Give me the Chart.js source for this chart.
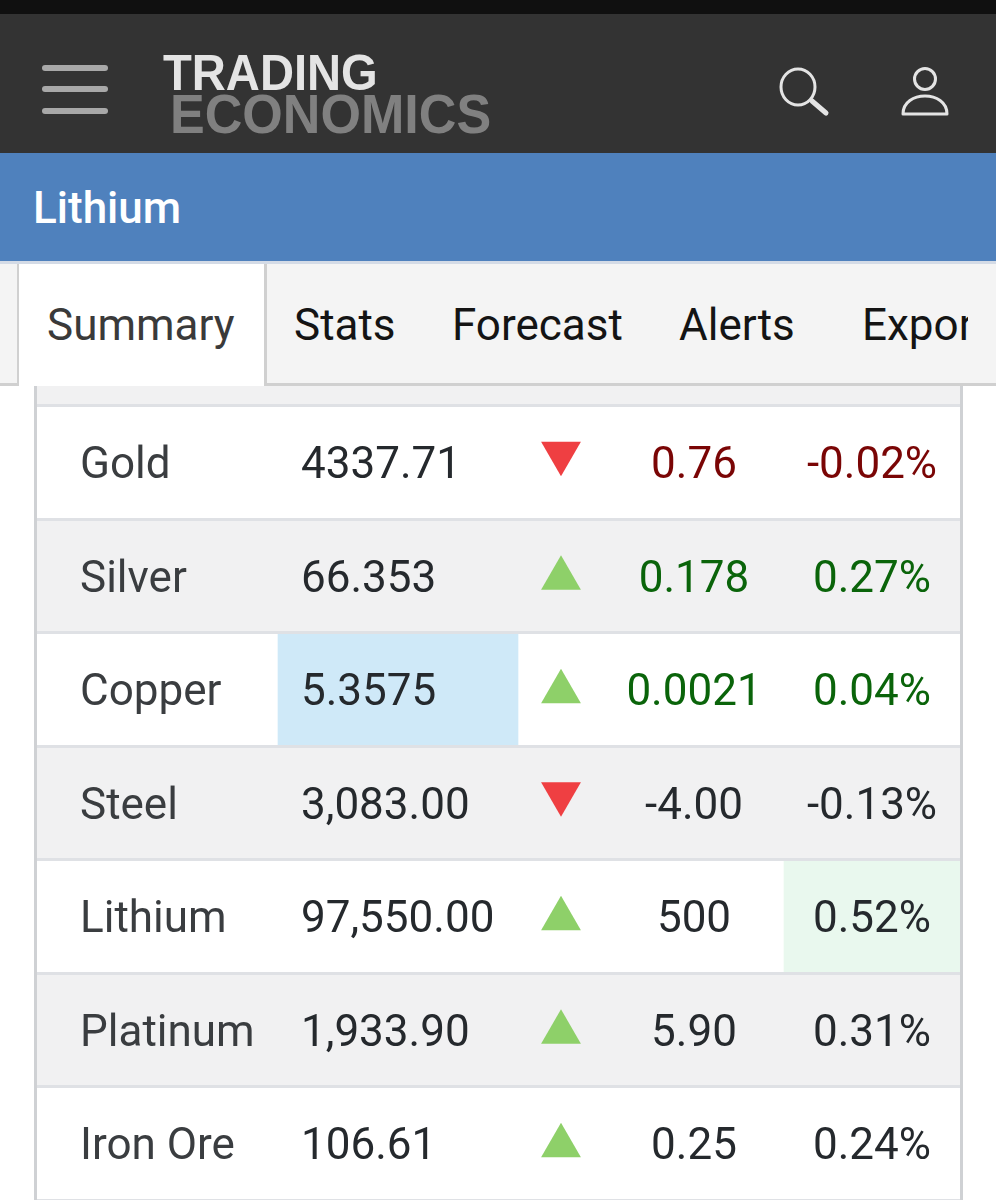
<!DOCTYPE html>
<html>
<head>
<meta charset="utf-8">
<title>Lithium</title>
<script src="https://cdn.jsdelivr.net/npm/chart.js@4"></script>
<style>
    html, body { margin: 0; padding: 0; width: 996px; height: 1200px; overflow: hidden; background: #fff; }
    body { position: relative; font-family: Roboto, sans-serif; }
    .abs { position: absolute; white-space: nowrap; }
    #topbar { left: 0; top: 0; width: 996px; height: 14px; background: #101010; }
    #header { left: 0; top: 14px; width: 996px; height: 139px; background: #333; }
    .burger { left: 42px; width: 66px; height: 6px; border-radius: 3px; background: #a8a8a8; }
    .logo { font-family: "Liberation Sans", sans-serif; font-weight: 700; transform-origin: 0 0; line-height: 1; }
    #title { left: 0; top: 153px; width: 996px; height: 108px; background: #4f81bd; }
    #titleText { left: 33px; top: 182px; font-size: 44px; line-height: 52px; font-weight: 500; color: #fff; }
    #strip { left: 0; top: 261px; width: 996px; height: 3px; background: #d4dbe6; }
    #tabs { left: 0; top: 264px; width: 996px; height: 119px; background: #f4f4f4; border-bottom: 3px solid #d0d0d0; overflow: hidden; z-index: 2; }
    #stub { left: 0; top: 0; width: 17px; height: 119px; border-right: 2px solid #d0d0d0; }
    #active { left: 19px; top: 0; width: 245px; height: 122px; background: #fff; border-right: 3px solid #d0d0d0; }
    .tab { top: 35px; font-size: 44px; line-height: 52px; color: #141414; }
    #activeGap { left: 19px; top: 383px; width: 245px; height: 3px; background: #fff; z-index: 3; }
    #clip { left: 0; top: 0; width: 968px; height: 119px; overflow: hidden; }
    #chartBox { left: 0; top: 292px; width: 996px; height: 908px; }
</style>
</head>
<body>
<div class="abs" id="topbar"></div>
<div class="abs" id="header"></div>
<div class="abs burger" style="top:65px"></div>
<div class="abs burger" style="top:86px"></div>
<div class="abs burger" style="top:108px"></div>
<div class="abs logo" id="logo1" style="left:163px;top:48px;font-size:50px;color:#e4e4e4;transform:scaleX(.943)">TRADING</div>
<div class="abs logo" id="logo2" style="left:170px;top:86px;font-size:56px;color:#808080;transform:scaleX(.93)">ECONOMICS</div>
<svg class="abs" style="left:770px;top:60px" width="190" height="64" viewBox="0 0 190 64" fill="none" stroke="#e4e4e4">
    <ellipse cx="28" cy="27" rx="17" ry="18" stroke-width="3"/>
    <line x1="42" y1="41" x2="56" y2="53" stroke-width="5" stroke-linecap="round"/>
    <ellipse cx="155" cy="19" rx="10.5" ry="10.5" stroke-width="3"/>
    <path d="M133 54 C133 30 177 30 177 54 Z" stroke-width="3" stroke-linejoin="round"/>
</svg>
<div class="abs" id="title"></div>
<div class="abs" id="titleText">Lithium</div>
<div class="abs" id="strip"></div>
<div class="abs" id="tabs">
    <div class="abs" id="stub"></div>
    <div class="abs" id="active"></div>
    <div class="abs" id="clip">
        <div class="abs tab" style="left:47px;color:#3a3a3a">Summary</div>
        <div class="abs tab" style="left:294px">Stats</div>
        <div class="abs tab" style="left:452px">Forecast</div>
        <div class="abs tab" style="left:679px">Alerts</div>
        <div class="abs tab" style="left:862px">Export</div>
    </div>
</div>
<div class="abs" id="activeGap"></div>
<div class="abs" id="chartBox"><canvas id="quotes"></canvas></div>

<script>
// Dữ liệu bảng: hàng đầu tiên bị che một phần phía sau các tab
var rows = ["", "Gold", "Silver", "Copper", "Steel", "Lithium", "Platinum", "Iron Ore"];
var commodities = ["Gold", "Silver", "Copper", "Steel", "Lithium", "Platinum", "Iron Ore"];
var prices = ["4337.71", "66.353", "5.3575", "3,083.00", "97,550.00", "1,933.90", "106.61"];
var changes = ["0.76", "0.178", "0.0021", "-4.00", "500", "5.90", "0.25"];
var percents = ["-0.02%", "0.27%", "0.04%", "-0.13%", "0.52%", "0.31%", "0.24%"];
var directions = ["down", "up", "up", "down", "up", "up", "up"];
var tones = ["loss", "gain", "gain", "flat", "flat", "flat", "flat"];

// Vị trí các cột, tính theo pixel trong bảng
var tableWidth = 926;
var nameX = 45, priceX = 266, arrowX = 526, changeX = 659, percentX = 837;
var toneColor = { loss: "#7a0505", gain: "#0a640a", flat: "#25292d" };

var stripes = rows.map(function (r, i) { return i % 2 === 0 ? [0, tableWidth] : null; });
var copperCell = rows.map(function (r) { return r === "Copper" ? [243, 483] : null; });
var lithiumCell = rows.map(function (r) { return r === "Lithium" ? [749, tableWidth] : null; });

var arrowPoints = commodities.map(function (name, i) {
    var shift = directions[i] === "up" ? 0.022 : -0.08;
    return { x: arrowX, y: rows.indexOf(name) + shift };
});

// Vẽ các ô chữ của bảng theo thang đo của biểu đồ
var cellText = {
    id: "cellText",
    afterDatasetsDraw: function (chart) {
        var ctx = chart.ctx, x = chart.scales.x, y = chart.scales.y;
        ctx.save();
        ctx.font = "400 44px Roboto";
        ctx.textBaseline = "middle";
        commodities.forEach(function (name, i) {
            var py = y.getPixelForValue(rows.indexOf(name)) + 5;
            ctx.textAlign = "left";
            ctx.fillStyle = "#3a3d40";
            ctx.fillText(name, x.getPixelForValue(nameX), py);
            ctx.fillStyle = toneColor.flat;
            ctx.fillText(prices[i], x.getPixelForValue(priceX), py);
            ctx.textAlign = "center";
            ctx.fillStyle = toneColor[tones[i]];
            ctx.fillText(changes[i], x.getPixelForValue(changeX), py);
            ctx.fillText(percents[i], x.getPixelForValue(percentX), py);
        });
        ctx.restore();
    }
};

new Chart(document.getElementById("quotes").getContext("2d"), {
    type: "bar",
    plugins: [cellText],
    data: {
        labels: rows,
        datasets: [
            {
                type: "scatter", label: "Direction", indexAxis: "x", xAxisID: "x", yAxisID: "yMark",
                data: arrowPoints, order: 0, borderWidth: 0,
                pointStyle: "triangle", pointRadius: 23, pointBorderWidth: 0,
                pointRotation: directions.map(function (d) { return d === "up" ? 0 : 180; }),
                pointBackgroundColor: directions.map(function (d) { return d === "up" ? "#8ed069" : "#ef3f42"; })
            },
            { label: "Copper", data: copperCell, backgroundColor: "#cfe9f8", order: 1, grouped: false, barPercentage: 1, categoryPercentage: 1 },
            { label: "Lithium", data: lithiumCell, backgroundColor: "#e9f8ee", order: 1, grouped: false, barPercentage: 1, categoryPercentage: 1 },
            { label: "Rows", data: stripes, backgroundColor: "#f1f1f2", order: 2, grouped: false, barPercentage: 1, categoryPercentage: 1 }
        ]
    },
    options: {
        indexAxis: "y",
        responsive: true,
        maintainAspectRatio: false,
        animation: false,
        layout: { autoPadding: false, padding: { left: 35, right: 35, top: 0, bottom: 0 } },
        plugins: { legend: { display: false }, tooltip: { enabled: false } },
        scales: {
            x: {
                type: "linear", min: 0, max: tableWidth,
                border: { display: false },
                ticks: { display: false, stepSize: tableWidth },
                grid: { color: "#cfd1d4", lineWidth: 3, drawTicks: false, z: 2 }
            },
            y: {
                type: "category",
                border: { display: false },
                ticks: { display: false },
                grid: { color: "#dfe1e5", lineWidth: 3, drawTicks: false, offset: true, z: 1 }
            },
            yMark: { type: "linear", display: false, offset: false, min: -0.5, max: 7.5, reverse: true }
        }
    }
});
</script>
</body>
</html>
